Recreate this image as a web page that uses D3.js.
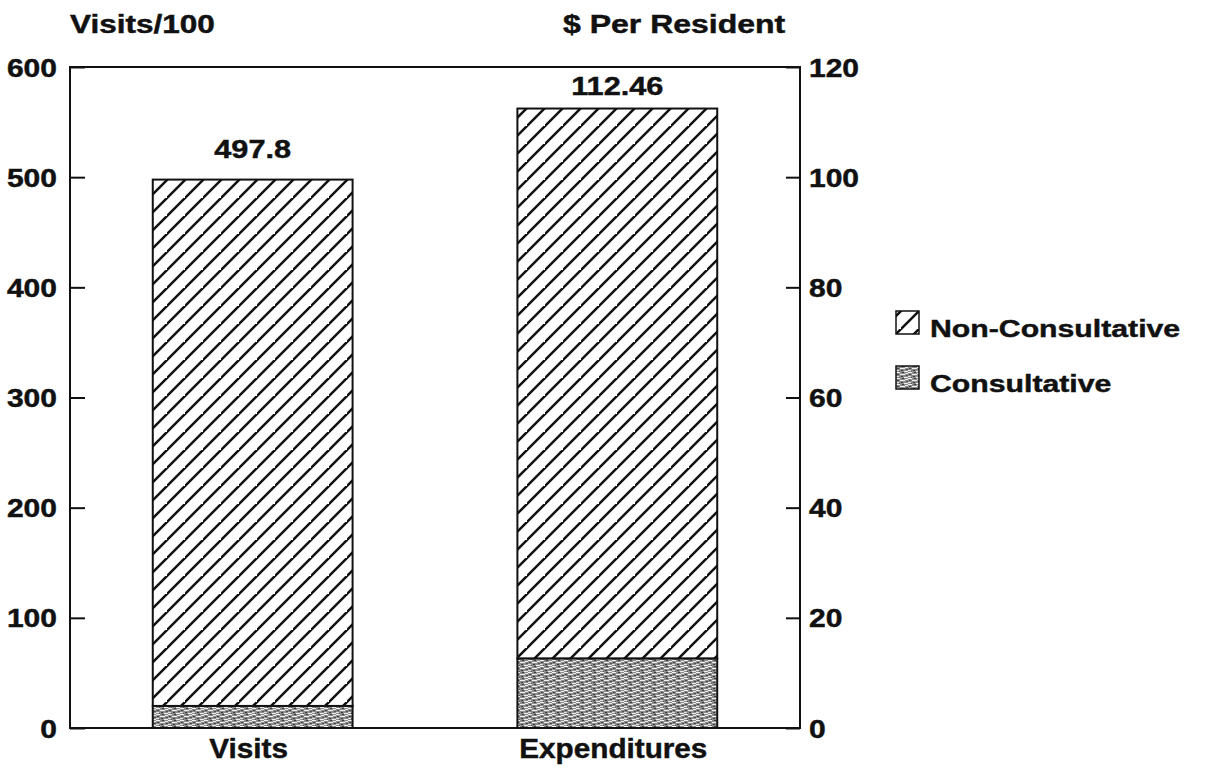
<!DOCTYPE html>
<html>
<head>
<meta charset="utf-8">
<script src="https://cdn.jsdelivr.net/npm/d3@7"></script>
<style>
  html, body { margin: 0; padding: 0; background: #fff; }
  svg { display: block; }
  text { font-family: "Liberation Sans", Arial, Helvetica, sans-serif; font-weight: bold; fill: #111; stroke: #111; stroke-width: 0.45px; }
</style>
</head>
<body>
<svg id="chart" width="1216" height="771"></svg>
<script>
// Bar categories and which axis each one is measured on
const categories = ["Visits", "Expenditures"];
const axisOf = ["left", "right"];
// Stacked segments: consultative part and the total bar height
const consultative = [20, 12.6];
const totals = [497.8, 112.46];
const totalLabels = ["497.8", "112.46"];
// Axis ticks and titles
const leftTicks = [0, 100, 200, 300, 400, 500, 600];
const rightTicks = [0, 20, 40, 60, 80, 100, 120];
const leftTitle = "Visits/100";
const rightTitle = "$ Per Resident";
const legendItems = ["Non-Consultative", "Consultative"];

const svg = d3.select("#chart");
const x0 = 70, x1 = 800, yTop = 67, yBot = 728;

const yLeft = d3.scaleLinear().domain([0, 600]).range([yBot, yTop]);
const yRight = d3.scaleLinear().domain([0, 120]).range([yBot, yTop]);
const scaleFor = i => axisOf[i] === "left" ? yLeft : yRight;

const xBand = d3.scaleBand().domain(categories).range([x0, x1]).paddingInner(0.452).paddingOuter(0.227);

// Wide lettering: stretch glyphs horizontally about their anchor point
function widen(sel, s) {
  sel.each(function () {
    const t = d3.select(this);
    const x = +t.attr("x") || 0, y = +t.attr("y") || 0;
    t.attr("x", 0).attr("y", 0).attr("transform", `translate(${x},${y}) scale(${s},1)`);
  });
}

// Fill patterns: diagonal hatch and a grey stipple
const defs = svg.append("defs");
const H = 18;
const hatch = defs.append("pattern").attr("id", "hatch")
  .attr("patternUnits", "userSpaceOnUse").attr("width", H).attr("height", H)
  .attr("patternTransform", "translate(5,0)");
hatch.append("rect").attr("width", H).attr("height", H).attr("fill", "#fff");
hatch.append("path").attr("d", `M-2,${H + 2} L${H + 2},-2 M${-H - 2},${H + 2} L2,-2 M${H - 2},${2 * H + 2} L${2 * H + 2},${H - 2}`)
  .attr("stroke", "#111").attr("stroke-width", 2.5);

const stip = defs.append("pattern").attr("id", "stipple")
  .attr("patternUnits", "userSpaceOnUse").attr("width", 12).attr("height", 6);
stip.append("rect").attr("width", 12).attr("height", 6).attr("fill", "#8c8c8c");
const stipMarks = [
  [0, 0, 4, "#f4f4f4"], [6, 0, 2, "#3c3c3c"], [9, 1, 3, "#e8e8e8"], [1, 2, 2, "#444"],
  [4, 2, 5, "#f0f0f0"], [10, 3, 2, "#505050"], [0, 4, 3, "#e4e4e4"], [5, 4, 2, "#3a3a3a"],
  [8, 5, 4, "#ececec"], [3, 5, 1, "#555"]
];
stip.selectAll("rect.m").data(stipMarks).join("rect").attr("class", "m")
  .attr("x", d => d[0]).attr("y", d => d[1]).attr("width", d => d[2]).attr("height", 1).attr("fill", d => d[3]);

const styleAxis = g => {
  g.select(".domain").remove();
  g.selectAll("text").attr("font-size", 25).attr("dy", "0.36em").call(widen, 1.2);
  g.selectAll("line").attr("stroke", "#111").attr("stroke-width", 2);
};

// Left and right value axes, ticks pointing into the plot
svg.append("g").attr("transform", `translate(${x0},0)`)
  .call(d3.axisLeft(yLeft).tickValues(leftTicks).tickSize(-15).tickPadding(13).tickFormat(d3.format("d")))
  .call(styleAxis);
svg.append("g").attr("transform", `translate(${x1},0)`)
  .call(d3.axisRight(yRight).tickValues(rightTicks).tickSize(-14).tickPadding(9).tickFormat(d3.format("d")))
  .call(styleAxis);

// Plot frame
svg.append("rect").attr("x", x0).attr("y", yTop).attr("width", x1 - x0).attr("height", yBot - yTop)
  .attr("fill", "none").attr("stroke", "#111").attr("stroke-width", 2);

// Stacked bars
const bars = svg.append("g");
categories.forEach((c, i) => {
  const y = scaleFor(i);
  const bx = xBand(c), bw = xBand.bandwidth();
  bars.append("rect").attr("x", bx).attr("y", y(totals[i])).attr("width", bw)
    .attr("height", y(consultative[i]) - y(totals[i]))
    .attr("fill", "url(#hatch)").attr("stroke", "#111").attr("stroke-width", 2);
  bars.append("rect").attr("x", bx).attr("y", y(consultative[i])).attr("width", bw)
    .attr("height", y(0) - y(consultative[i]))
    .attr("fill", "url(#stipple)").attr("stroke", "#111").attr("stroke-width", 2);
  // value label above the bar, kept inside the frame
  bars.append("text").attr("x", bx + bw / 2).attr("y", Math.max(y(totals[i]) - 22, yTop + 28))
    .attr("text-anchor", "middle").attr("font-size", 26).text(totalLabels[i]).call(widen, 1.18);
  bars.append("text").attr("x", bx + bw / 2 - 4).attr("y", 758)
    .attr("text-anchor", "middle").attr("font-size", 27).text(c).call(widen, 1.1);
});

// Axis titles
svg.append("text").attr("x", 70).attr("y", 33).attr("font-size", 25).text(leftTitle).call(widen, 1.26);
svg.append("text").attr("x", 563).attr("y", 33).attr("font-size", 25).text(rightTitle).call(widen, 1.28);

// Legend
const legend = svg.append("g").attr("transform", "translate(896,311)");
legendItems.forEach((name, i) => {
  const g = legend.append("g").attr("transform", `translate(0,${i * 55})`);
  g.append("rect").attr("width", 23).attr("height", 23)
    .attr("fill", i === 0 ? "url(#hatch)" : "url(#stipple)").attr("stroke", "#111").attr("stroke-width", 1.5);
  g.append("text").attr("x", 34).attr("y", 26).attr("font-size", 24).text(name).call(widen, 1.26);
});
</script>
</body>
</html>
